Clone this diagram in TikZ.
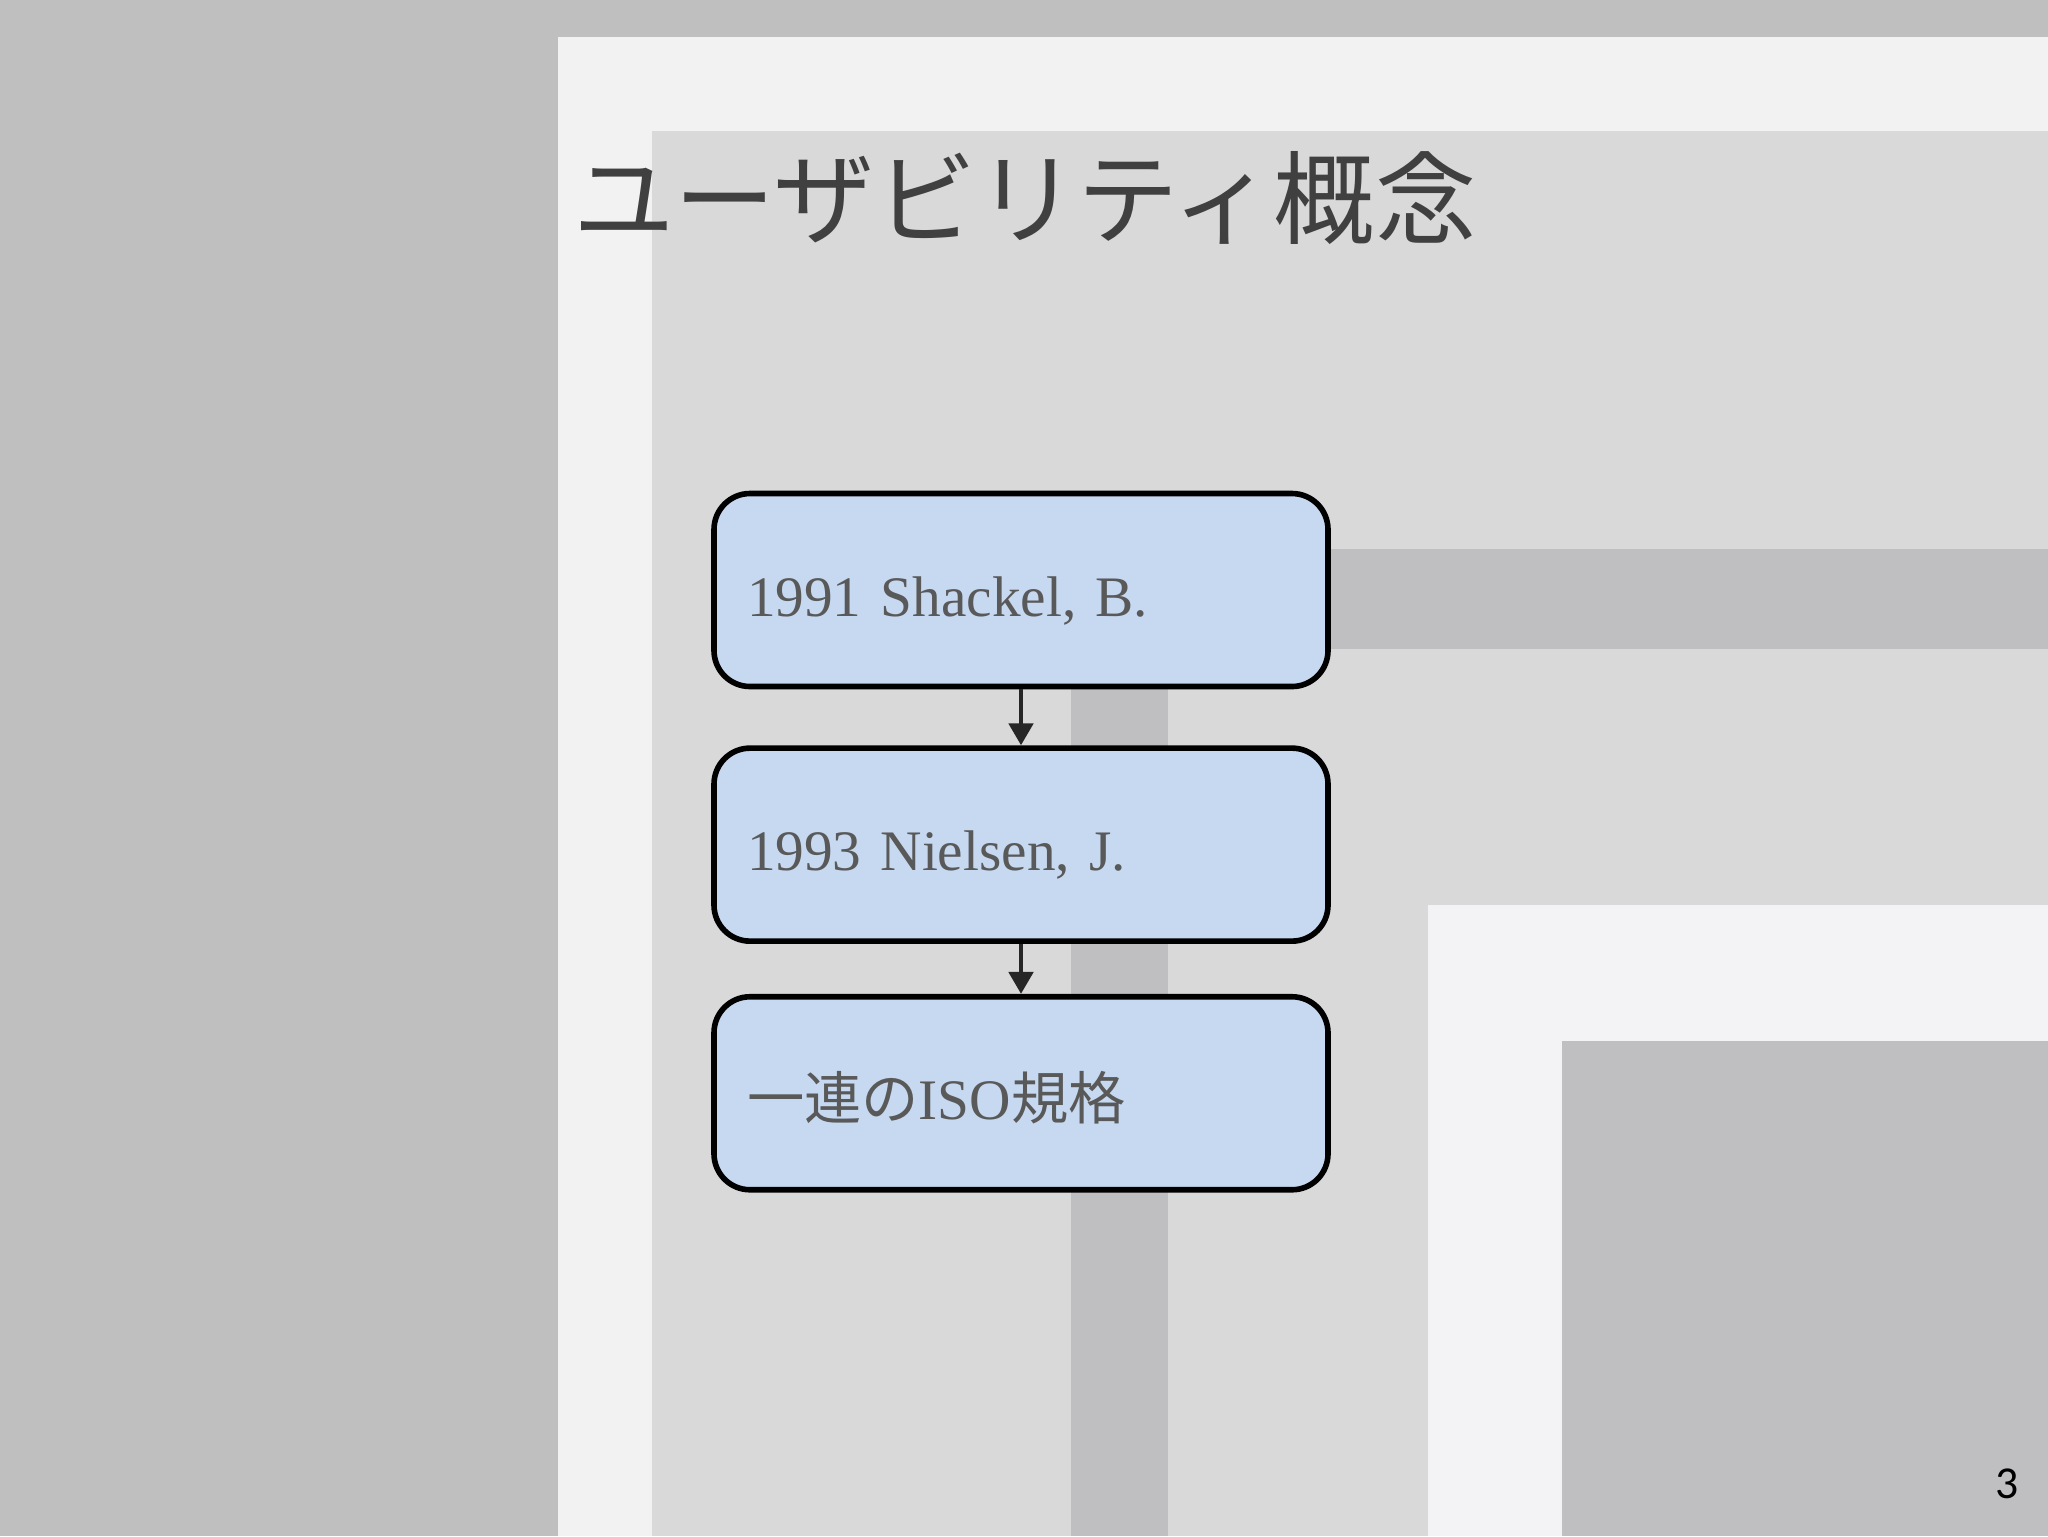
\documentclass[tikz,border=0pt]{standalone}
\usepackage{fontspec}
\setmainfont{Liberation Serif}
\newfontfamily\cjk{Noto Sans CJK JP}
\newfontfamily\pagefont{Carlito}
\usepackage{tikz}
\usetikzlibrary{positioning}
\usetikzlibrary{arrows.meta}
\definecolor{slidegray}{HTML}{BFBFBF}
\definecolor{panelwhite}{HTML}{F2F2F2}
\definecolor{panelgray}{HTML}{D9D9D9}
\definecolor{bandgray}{HTML}{BFBFC1}
\definecolor{cornerwhite}{HTML}{F3F2F5}
\definecolor{cornergray}{HTML}{BFBEC1}
\definecolor{boxblue}{HTML}{C6D9F1}
\definecolor{boxtext}{HTML}{595959}
\definecolor{titletext}{HTML}{404040}
\tikzset{
	eventbox/.style={draw=black, line width=1.6pt, fill=boxblue, rounded corners=3.6mm,
		minimum width=6.14cm, minimum height=1.93cm, text width=5.48cm, inner xsep=3.3mm,
		text height=5.2mm, text depth=0pt,
		align=left, text=boxtext, font=\fontsize{16.3}{19}\selectfont},
	flowarrow/.style={draw=black!85, line width=1.4pt, -{Triangle[length=2.2mm,width=2.4mm]}}
}

\begin{document}
\begin{tikzpicture}[x=0.1mm, y=-0.1mm]
				\useasboundingbox (0,0) rectangle (2048,1536);
				% background panels
				\fill[slidegray] (0,0) rectangle (2048,1536);
				\fill[panelwhite] (558,37) rectangle (2048,1536);
				\fill[panelgray] (652,131) rectangle (2048,1536);
				\fill[bandgray] (1071,549) rectangle (2048,649);
				\fill[bandgray] (1071,549) rectangle (1168,1536);
				\fill[cornerwhite] (1428,905) rectangle (2048,1536);
				\fill[cornergray] (1562,1041) rectangle (2048,1536);
				\node[anchor=west, text=titletext, font=\cjk\fontsize{28.8}{32}\selectfont] (title) at (561,198) {ユーザビリティ概念};
				\node[eventbox] (shackel) at (1021,590) {1991 Shackel, B.};
				\node[eventbox, below=5.6mm of shackel] (nielsen) {1993 Nielsen, J.};
				\node[eventbox, below=5.0mm of nielsen] (iso) {{\cjk 一連の}ISO{\cjk 規格}};
				\draw[flowarrow] (shackel) -- (nielsen);
				\draw[flowarrow] (nielsen) -- (iso);
				\node[font=\pagefont\fontsize{13}{15}\selectfont] (pagenum) at (2007,1484) {3};
			\end{tikzpicture}
\end{document}
